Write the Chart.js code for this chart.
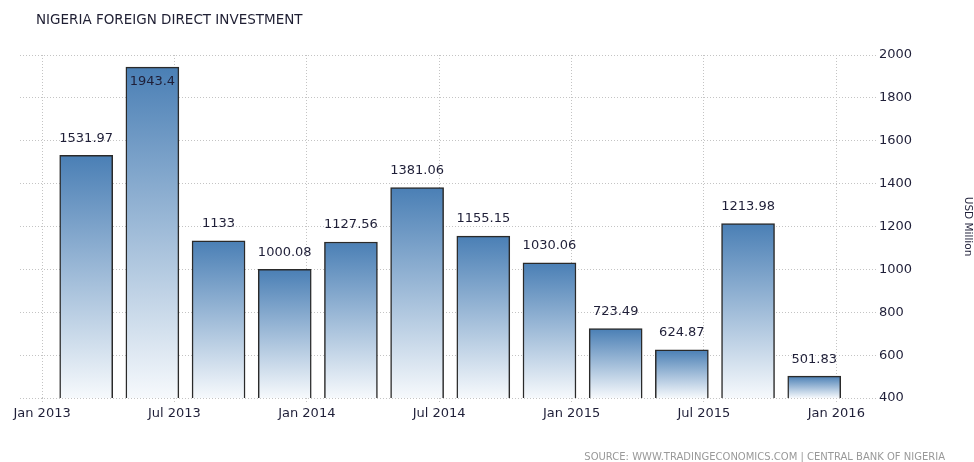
<!DOCTYPE html>
<html>
<head>
<meta charset="utf-8">
<script src="https://cdn.jsdelivr.net/npm/chart.js@4/dist/chart.umd.min.js"></script>
<style>
  html, body { margin: 0; padding: 0; background: #fff; }
  #wrap { width: 974px; height: 462px; }
</style>
</head>
<body>
<div id="wrap"><canvas id="fdiChart"></canvas></div>
<script>
// quarterly values, USD million (Q1 2013 .. Q4 2015)
const quarters   = ['Q1 2013','Q2 2013','Q3 2013','Q4 2013','Q1 2014','Q2 2014','Q3 2014','Q4 2014','Q1 2015','Q2 2015','Q3 2015','Q4 2015'];
const barMonths  = [2, 5, 8, 11, 14, 17, 20, 23, 26, 29, 32, 35];   // months after Jan 2013
const fdiValues  = [1531.97, 1943.4, 1133, 1000.08, 1127.56, 1381.06, 1155.15, 1030.06, 723.49, 624.87, 1213.98, 501.83];
const tickMonths = [0, 6, 12, 18, 24, 30, 36];
const tickLabels = ['Jan 2013','Jul 2013','Jan 2014','Jul 2014','Jan 2015','Jul 2015','Jan 2016'];

const textColor = '#1f1f38';
const gridColor = '#c4c4c4';

function barGradient(ctx) {
  const chart = ctx.chart;
  if (!chart.chartArea || ctx.parsed === undefined) return '#4a7fb5';
  const y = chart.scales.y;
  const top = y.getPixelForValue(ctx.parsed.y);
  const bottom = y.getPixelForValue(y.min);
  const g = chart.ctx.createLinearGradient(0, top, 0, bottom);
  g.addColorStop(0, '#4a7fb5');
  g.addColorStop(1, '#f6f9fc');
  return g;
}

/* ============ labels, title, source ============ */
const decorPlugin = {
  id: 'decor',
  afterDatasetsDraw(chart) {
    const ctx = chart.ctx;
    const meta = chart.getDatasetMeta(0);
    ctx.save();
    ctx.font = '13px "DejaVu Sans"';
    ctx.fillStyle = textColor;
    ctx.textAlign = 'center';
    ctx.textBaseline = 'middle';
    meta.data.forEach((bar, i) => {
      let ly = bar.y - 17;
      if (ly - 8 < chart.chartArea.top) ly = bar.y + 14;
      ctx.fillText(String(fdiValues[i]), bar.x, ly);
    });

    ctx.textAlign = 'left';
    ctx.font = '13.5px "DejaVu Sans"';
    ctx.fillStyle = '#1f1f33';
    ctx.fillText('NIGERIA FOREIGN DIRECT INVESTMENT', 36, 20);

    ctx.textAlign = 'right';
    ctx.textBaseline = 'alphabetic';
    ctx.font = '10px "DejaVu Sans"';
    ctx.fillStyle = '#999999';
    ctx.fillText('SOURCE: WWW.TRADINGECONOMICS.COM | CENTRAL BANK OF NIGERIA', 945, 460);
    ctx.restore();
  }
};

new Chart(document.getElementById('fdiChart'), {
  type: 'bar',
  data: {
    labels: quarters,
    datasets: [{
      label: 'Foreign Direct Investment',
      data: barMonths.map((m, i) => ({ x: m, y: fdiValues[i] })),
      backgroundColor: barGradient,
      borderColor: '#2a2a2a',
      borderWidth: 1.5,
      borderSkipped: false,
      barThickness: 53
    }]
  },
  options: {
    responsive: true,
    maintainAspectRatio: false,
    animation: false,
    layout: { padding: { top: 55, left: 20, right: 0, bottom: 0 } },
    plugins: {
      legend: { display: false },
      tooltip: { enabled: false },
      title: { display: false }
    },
    scales: {
      x: {
        type: 'linear',
        offset: false,
        min: -1,
        max: 37.8,
        afterBuildTicks: scale => { scale.ticks = tickMonths.map(v => ({ value: v })); },
        afterFit: scale => { scale.height = 64; },
        border: { display: false, dash: [1, 2] },
        grid: {
          offset: false,
          color: gridColor,
          tickLength: 6,
          tickColor: gridColor,
          tickBorderDash: [1, 2]
        },
        ticks: {
          autoSkip: false,
          maxRotation: 0,
          padding: 2,
          color: textColor,
          font: { family: 'DejaVu Sans', size: 13 },
          callback: v => tickLabels[tickMonths.indexOf(v)]
        }
      },
      y: {
        position: 'right',
        min: 400,
        max: 2000,
        afterFit: scale => { scale.width = 98; },
        border: { display: false, dash: [1, 2] },
        grid: {
          color: gridColor,
          drawTicks: false
        },
        ticks: {
          stepSize: 200,
          padding: 3,
          color: textColor,
          font: { family: 'DejaVu Sans', size: 13 },
          callback: v => String(v)
        },
        title: {
          display: true,
          text: 'USD Million',
          color: textColor,
          padding: 0,
          font: { family: 'DejaVu Sans', size: 10.5 }
        }
      }
    }
  },
  plugins: [decorPlugin]
});
</script>
</body>
</html>
